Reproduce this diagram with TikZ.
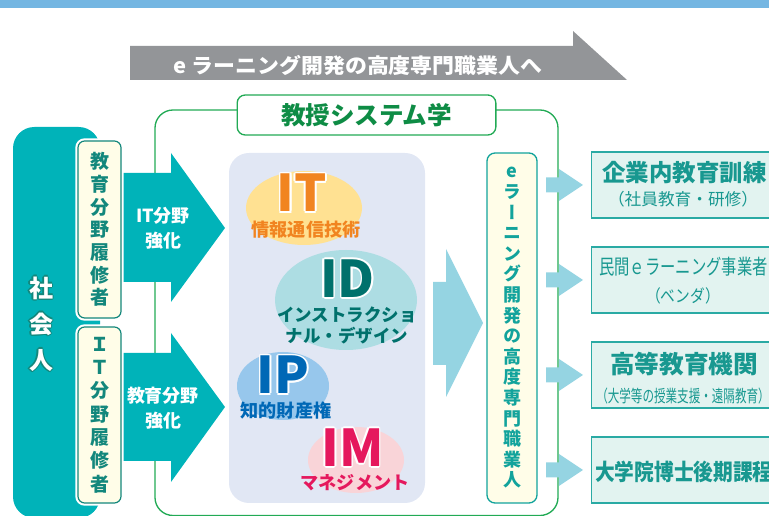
\documentclass[tikz,border=0pt]{standalone}
\usepackage{fontspec}
\setmainfont{Noto Sans CJK JP}
\newfontfamily\tate{Noto Sans CJK JP}[RawFeature=+vert]
\usetikzlibrary{positioning}

\definecolor{topblue}{HTML}{74B6E2}
\definecolor{bannergray}{HTML}{939598}
\definecolor{framegreen}{HTML}{22AA55}
\definecolor{titlegreen}{HTML}{0E8C45}
\definecolor{tealbg}{HTML}{00B3B9}
\definecolor{tealtext}{HTML}{13877C}
\definecolor{vtext}{HTML}{12A39C}
\definecolor{cream}{HTML}{FFFDE8}
\definecolor{lavender}{HTML}{E1E7F4}
\definecolor{itfill}{HTML}{FFE192}
\definecolor{ittext}{HTML}{F18420}
\definecolor{idfill}{HTML}{ADDDE3}
\definecolor{idtext}{HTML}{00716C}
\definecolor{ipfill}{HTML}{97C7EC}
\definecolor{iptext}{HTML}{0068B6}
\definecolor{imfill}{HTML}{F9D4D8}
\definecolor{imtext}{HTML}{E5185D}
\definecolor{lightarrow}{HTML}{95D4E2}
\definecolor{mint}{HTML}{E2F3F0}
\definecolor{mintline}{HTML}{2AAAA4}
\definecolor{minttext}{HTML}{189890}

\newcommand\fsz[2]{\fontsize{#1}{#2}\selectfont}
\newlength\olw
% outlined text: [width]{outline}{fill}{text}
\newcommand\outl[4][1pt]{\setlength\olw{#1}\leavevmode\rlap{\color{#2}%
  \rlap{\hspace{\olw}#4}\rlap{\hspace{-\olw}#4}%
  \rlap{\raisebox{\olw}{#4}}\rlap{\raisebox{-\olw}{#4}}%
  \rlap{\hspace{.7\olw}\raisebox{.7\olw}{#4}}\rlap{\hspace{-.7\olw}\raisebox{.7\olw}{#4}}%
  \rlap{\hspace{.7\olw}\raisebox{-.7\olw}{#4}}\rlap{\hspace{-.7\olw}\raisebox{-.7\olw}{#4}}}%
  \textcolor{#3}{#4}}

\begin{document}
\begin{tikzpicture}[x=0.75pt,y=-0.75pt,
    creambox/.style={draw=tealtext,line width=0.9pt,fill=cream,rounded corners=5pt,
      preaction={draw=white,line width=4pt},minimum width=32.25pt,inner sep=0pt,
      text=tealtext,align=center},
    rightbox/.style={draw=mintline,line width=1.1pt,fill=mint,anchor=west,
      minimum width=160pt,minimum height=49.5pt},
    bigletter/.style={inner sep=0pt,font=\bfseries\fsz{38}{40}},
    sublabel/.style={inner sep=0pt,align=center,font=\bfseries\fsz{13.6}{15.75}}]
  \useasboundingbox (0,0) rectangle (769,516);
  \clip (0,0) rectangle (769,516);

  % top band and banner
  \fill[topblue] (0,0) rectangle (769,8);
  \fill[bannergray] (130,46) -- (573,46) -- (573,31) -- (627,80) -- (130,80) -- cycle;
  \node[text=white,font=\bfseries\fsz{15.5}{18},xscale=1.06] (goal) at (358,65)
    {e ラーニング開発の高度専門職業人へ};

  % frame of the programme
  \draw[framegreen,line width=1pt,rounded corners=13.5pt] (155,110) rectangle (558,515.5);
  \node[draw=framegreen,line width=1pt,fill=white,rounded corners=6pt,
    minimum width=194pt,minimum height=30pt,text=titlegreen,
    font=\bfseries\fsz{18.4}{20}] (title) at (366.5,115) {教授システム学};

  % working adults
  \fill[tealbg,rounded corners=16pt] (13,127) rectangle (100,518);
  \node[align=center,inner sep=0pt,font=\bfseries\fsz{18}{27}] (shakai) at (41,324)
    {\outl[1pt]{tealtext}{white}{社}\\\outl[1pt]{tealtext}{white}{会}\\\outl[1pt]{tealtext}{white}{人}};

  % teal arrows
  \fill[tealbg] (100,173) -- (171,173) -- (171,153) -- (225,228) -- (171,302) -- (171,282) -- (100,282) -- cycle;
  \fill[tealbg] (100,353) -- (171,353) -- (171,333) -- (225,407) -- (171,482) -- (171,461) -- (100,461) -- cycle;
  \node[text=white,align=center,font=\bfseries\fsz{13.5}{19}] (itplus) at (163,228) {IT分野\\強化};
  \node[text=white,align=center,font=\bfseries\fsz{13.5}{19}] (eduplus) at (163,408) {教育分野\\強化};

  \node[creambox,minimum height=132.75pt,font=\tate\bfseries\fsz{14.25}{17}] (edu) at (99.5,229.5)
    {教\\育\\分\\野\\履\\修\\者};
  \node[creambox,minimum height=132pt,font=\tate\bfseries\fsz{14.25}{17.5}] (itb) at (99.5,415)
    {Ｉ\\Ｔ\\分\\野\\履\\修\\者};

  % four fields
  \fill[lavender,rounded corners=15pt] (229,153) rectangle (425,503);
  \fill[itfill] (304,208) ellipse [x radius=43.5pt,y radius=27.75pt];
  \fill[idfill] (346,300) ellipse [x radius=53.25pt,y radius=37.5pt];
  \fill[ipfill] (283,386) ellipse [x radius=34.5pt,y radius=25.5pt];
  \fill[imfill] (356,460) ellipse [x radius=36pt,y radius=24.75pt];

  \node[bigletter] (it) at (302,193) {\outl[1.3pt]{white}{ittext}{IT}};
  \node[sublabel,text=ittext] (itname) at (306,229.5) {情報通信技術};
  \node[bigletter] (id) at (347.5,278.5) {\outl[1.3pt]{white}{idtext}{ID}};
  \node[sublabel,text=idtext,font=\bfseries\fsz{13.1}{15.75}] (idname) at (347,325)
    {インストラクショ\\ナル・デザイン};
  \node[bigletter] (ip) at (283,375) {\outl[1.3pt]{white}{iptext}{IP}};
  \node[sublabel,text=iptext] (ipname) at (286,410.5) {知的財産権};
  \node[bigletter] (im) at (352.5,447.5) {\outl[1.3pt]{white}{imtext}{IM}};
  \node[sublabel,text=imtext] (imname) at (355,482.5) {マネジメント};

  % big arrow
  \fill[lightarrow] (433,282) -- (446,282) -- (446,249) -- (483,323) -- (446,397) -- (446,365) -- (433,365) -- cycle;

  \node[draw=vtext,line width=1pt,fill=cream,rounded corners=6pt,minimum width=37.5pt,
    minimum height=262.5pt,inner sep=0pt,align=center,text=vtext,
    font=\tate\bfseries\fsz{13.5}{15.45}] (pro) at (512,328)
    {e\\ラ\\ー\\ニ\\ン\\グ\\開\\発\\の\\高\\度\\専\\門\\職\\業\\人};

  % small arrows
  \foreach \c in {185,280,375,470}
    \fill[lightarrow] (546,\c-7.5) -- (559,\c-7.5) -- (559,\c-16) -- (583,\c) -- (559,\c+16) -- (559,\c+7.5) -- (546,\c+7.5) -- cycle;

  % careers
  \node[rightbox] (corp) at (591,185) {};
  \node[rightbox] (vendor) at (591,280) {};
  \node[rightbox] (univ) at (591,375) {};
  \node[rightbox] (doctor) at (591,470) {};

  \node[text=minttext,font=\bfseries\fsz{17.6}{20},inner sep=0pt] (corpname) at (684.5,172.5) {企業内教育訓練};
  \node[text=minttext,font=\fsz{12.5}{14},inner sep=0pt] (corpsub) at (683,199) {（社員教育・研修）};
  \node[text=minttext,font=\fsz{15.5}{18},xscale=0.74,inner sep=0pt] (vendorname) at (683.5,267) {民間ｅラーニング事業者};
  \node[text=minttext,font=\fsz{13}{15},xscale=0.85,inner sep=0pt] (vendorsub) at (683,296) {（ベンダ）};
  \node[text=minttext,font=\bfseries\fsz{18.5}{20},inner sep=0pt] (univname) at (684,364) {高等教育機関};
  \node[text=minttext,font=\fsz{12.75}{14},xscale=0.68,inner sep=0pt] (univsub) at (683,396) {（大学等の授業支援・遠隔教育）};
  \node[text=minttext,font=\bfseries\fsz{17}{20},xscale=0.87,anchor=west,inner sep=0pt] (doctorname) at (595,471.5) {大学院博士後期課程};
\end{tikzpicture}
\end{document}
